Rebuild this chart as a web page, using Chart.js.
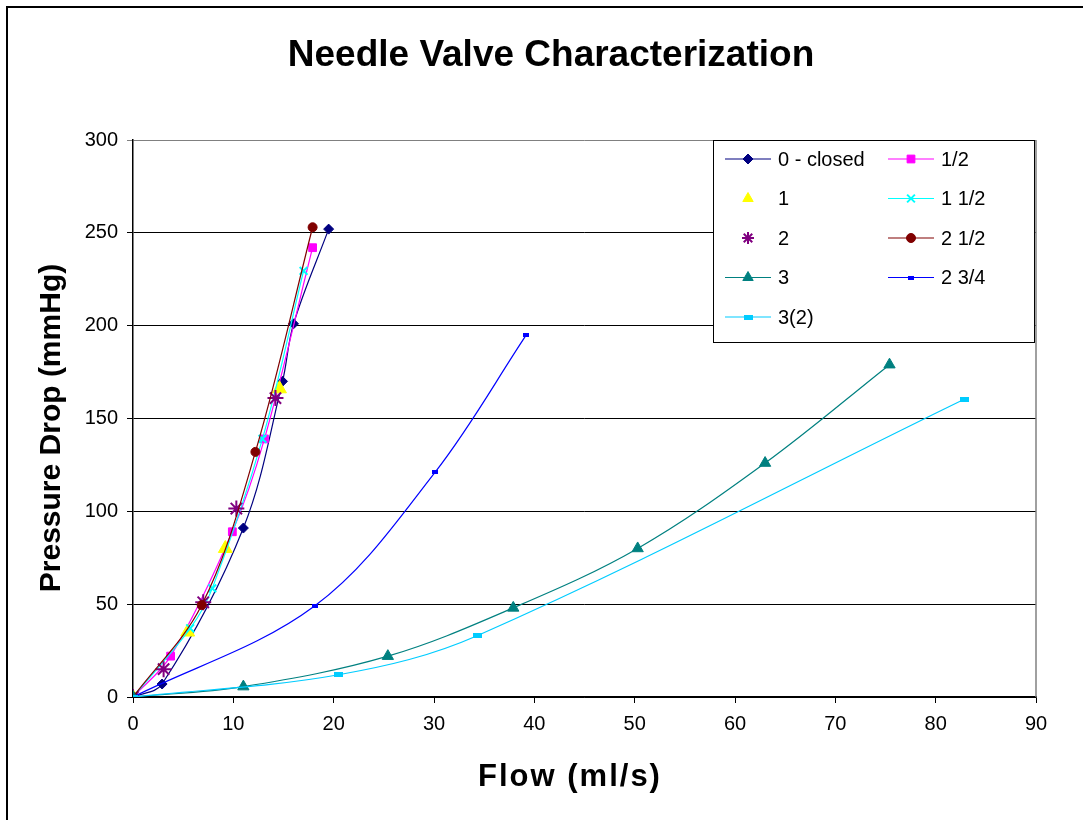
<!DOCTYPE html>
<html>
<head>
<meta charset="utf-8">
<title>Needle Valve Characterization</title>
<script src="https://cdn.jsdelivr.net/npm/chart.js@4"></script>
<style>
    html, body { margin: 0; padding: 0; background: #fff; }
    #wrap { width: 1083px; height: 820px; position: relative; }
</style>
</head>
<body>
<div id="wrap"><canvas id="valve-chart"></canvas></div>
<script>
// Needle valve opening (turns) -> flow (ml/s) vs pressure drop (mmHg)
const seriesNames = ['0 - closed', '1/2', '1', '1 1/2', '2', '2 1/2', '3', '2 3/4', '3(2)'];

const flowClosed = [0, 2.9, 11.0, 14.9, 16.0, 19.5];
const dropClosed = [0, 7, 91, 170, 201, 252];

const flowHalf = [0, 3.75, 9.9, 13.1, 17.9];
const dropHalf = [0, 22, 89, 139, 242];

const flowOne = [0, 5.45, 9.2, 14.6];
const dropOne = [0, 35, 80, 166];

const flowOneHalf = [0, 5.7, 7.9, 12.9, 17.0];
const dropOneHalf = [0, 37, 58.5, 139, 229.5];

const flowTwo = [0, 3.05, 7.0, 10.3, 14.2];
const dropTwo = [0, 15, 51, 101.5, 161];

const flowTwoHalf = [0, 6.85, 12.2, 17.9];
const dropTwoHalf = [0, 49.5, 132, 253];

const flowThree = [0, 11.0, 25.4, 37.9, 50.3, 63.0, 75.4];
const dropThree = [0, 5.6, 22, 48, 80, 126, 179];

const flowTwoThreeQ = [0, 18.1, 30.1, 39.2];
const dropTwoThreeQ = [0, 49, 121, 195];

const flowThreeRepeat = [0, 20.5, 34.3, 82.9];
const dropThreeRepeat = [0, 12, 33, 160.5];

const xTicks = [0, 10, 20, 30, 40, 50, 60, 70, 80, 90];
const yTicks = [0, 50, 100, 150, 200, 250, 300];

const chartTitle = 'Needle Valve Characterization';
const xTitle = 'Flow (ml/s)';
const yTitle = 'Pressure Drop (mmHg)';

const FONT = "'Liberation Sans', Arial, sans-serif";

function pairs(xs, ys) {
    return xs.map((x, i) => ({ x, y: ys[i] }));
}

// small flat dash used as marker for the two later runs
function dashMarker(w, h, color) {
    const c = document.createElement('canvas');
    c.width = w; c.height = h;
    const g = c.getContext('2d');
    g.fillStyle = color;
    g.fillRect(0, 0, w, h);
    return c;
}

const styles = [
    { color: '#000080', pointStyle: 'rectRot', radius: 5, line: true },
    { color: '#FF00FF', pointStyle: 'rect', radius: 5.5, line: true },
    { color: '#FFFF00', pointStyle: 'triangle', radius: 8, line: false },
    { color: '#00FFFF', pointStyle: 'crossRot', radius: 5.5, line: true, lineWidthPt: 2 },
    { color: '#800080', pointStyle: 'star', radius: 8, line: false, lineWidthPt: 2 },
    { color: '#800000', pointStyle: 'circle', radius: 4.5, line: true },
    { color: '#008080', pointStyle: 'triangle', radius: 6.5, line: true },
    { color: '#0000FF', pointStyle: dashMarker(6, 4, '#0000FF'), radius: 3, line: true },
    { color: '#00CCFF', pointStyle: dashMarker(9, 5, '#00CCFF'), radius: 4, line: true }
];

const allData = [
    pairs(flowClosed, dropClosed),
    pairs(flowHalf, dropHalf),
    pairs(flowOne, dropOne),
    pairs(flowOneHalf, dropOneHalf),
    pairs(flowTwo, dropTwo),
    pairs(flowTwoHalf, dropTwoHalf),
    pairs(flowThree, dropThree),
    pairs(flowTwoThreeQ, dropTwoThreeQ),
    pairs(flowThreeRepeat, dropThreeRepeat)
];

const datasets = seriesNames.map((name, i) => {
    const s = styles[i];
    return {
        label: name,
        data: allData[i],
        showLine: s.line,
        borderColor: s.color,
        backgroundColor: s.color,
        borderWidth: 1.2,
        tension: 0.35,
        pointStyle: s.pointStyle,
        pointRadius: s.radius,
        pointHoverRadius: s.radius,
        pointBorderWidth: s.lineWidthPt || 1,
        pointBorderColor: s.color,
        pointBackgroundColor: s.color,
        order: seriesNames.length - i
    };
});

// outer frame, titles, right edge of plot area and the boxed legend
const framePlugin = {
    id: 'frame',
    beforeDraw(chart) {
        const { ctx, width, height } = chart;
        ctx.save();
        ctx.fillStyle = '#fff';
        ctx.fillRect(0, 0, width, height);
        ctx.strokeStyle = '#000';
        ctx.lineWidth = 2;
        ctx.beginPath();
        ctx.moveTo(7, height + 2);
        ctx.lineTo(7, 7);
        ctx.lineTo(width + 2, 7);
        ctx.stroke();

        ctx.fillStyle = '#000';
        ctx.textAlign = 'center';
        ctx.textBaseline = 'middle';
        ctx.font = 'bold 37px ' + FONT;
        ctx.fillText(chartTitle, 551, 56);

        ctx.font = 'bold 31px ' + FONT;
        if ('letterSpacing' in ctx) ctx.letterSpacing = '2px';
        ctx.fillText(xTitle, 570, 777);
        if ('letterSpacing' in ctx) ctx.letterSpacing = '0px';

        ctx.translate(52, 428);
        ctx.rotate(-Math.PI / 2);
        ctx.font = 'bold 30px ' + FONT;
        ctx.fillText(yTitle, 0, 0);
        ctx.restore();
    },
    afterDraw(chart) {
        const { ctx, chartArea: a } = chart;
        ctx.save();
        ctx.strokeStyle = '#808080';
        ctx.lineWidth = 1.5;
        ctx.beginPath();
        ctx.moveTo(a.right, a.top);
        ctx.lineTo(a.right, a.bottom);
        ctx.stroke();

        // legend box
        const box = { left: 713, top: 140, right: 1034, bottom: 342 };
        ctx.fillStyle = '#fff';
        ctx.fillRect(box.left, box.top, box.right - box.left, box.bottom - box.top);
        ctx.strokeStyle = '#000';
        ctx.lineWidth = 1;
        ctx.strokeRect(box.left + 0.5, box.top + 0.5, box.right - box.left, box.bottom - box.top);

        ctx.font = '20px ' + FONT;
        ctx.textBaseline = 'middle';
        ctx.textAlign = 'left';
        chart.data.datasets.forEach((ds, i) => {
            const col = i % 2;
            const row = Math.floor(i / 2);
            const x0 = col === 0 ? 725 : 888;
            const y = 159 + row * 39.5;
            if (ds.showLine) {
                ctx.strokeStyle = ds.borderColor;
                ctx.lineWidth = 1.2;
                ctx.beginPath();
                ctx.moveTo(x0, y);
                ctx.lineTo(x0 + 46, y);
                ctx.stroke();
            }
            ctx.strokeStyle = ds.pointBorderColor;
            ctx.fillStyle = ds.pointBackgroundColor;
            ctx.lineWidth = ds.pointBorderWidth;
            Chart.helpers.drawPoint(ctx, {
                pointStyle: ds.pointStyle,
                radius: Math.min(ds.pointRadius, 6),
                rotation: 0,
                borderWidth: ds.pointBorderWidth
            }, x0 + 23, y);
            ctx.fillStyle = '#000';
            ctx.fillText(ds.label, x0 + 53, y + 1);
        });
        ctx.restore();
    }
};

new Chart(document.getElementById('valve-chart'), {
    type: 'scatter',
    data: { datasets },
    plugins: [framePlugin],
    options: {
        responsive: true,
        maintainAspectRatio: false,
        animation: false,
        layout: { padding: { left: 0, right: 47, top: 140, bottom: 0 } },
        plugins: {
            legend: { display: false },
            tooltip: { enabled: false },
            title: { display: false }
        },
        scales: {
            x: {
                type: 'linear',
                min: 0,
                max: 90,
                afterBuildTicks: s => { s.ticks = xTicks.map(v => ({ value: v })); },
                afterFit: s => { s.height = 123; },
                grid: { drawOnChartArea: false, drawTicks: true, tickLength: 6, color: '#000' },
                border: { color: '#000', width: 1.5 },
                ticks: { color: '#000', padding: 9, font: { family: FONT, size: 20 } }
            },
            y: {
                type: 'linear',
                min: 0,
                max: 300,
                afterBuildTicks: s => { s.ticks = yTicks.map(v => ({ value: v })); },
                afterFit: s => { s.width = 133; },
                grid: {
                    drawTicks: true,
                    tickLength: 6,
                    color: c => (c.tick && c.tick.value === 300 ? '#808080' : '#000'),
                    lineWidth: 1
                },
                border: { color: '#000', width: 1.5 },
                ticks: { color: '#000', padding: 9, font: { family: FONT, size: 20 } }
            }
        }
    }
});
</script>
</body>
</html>
